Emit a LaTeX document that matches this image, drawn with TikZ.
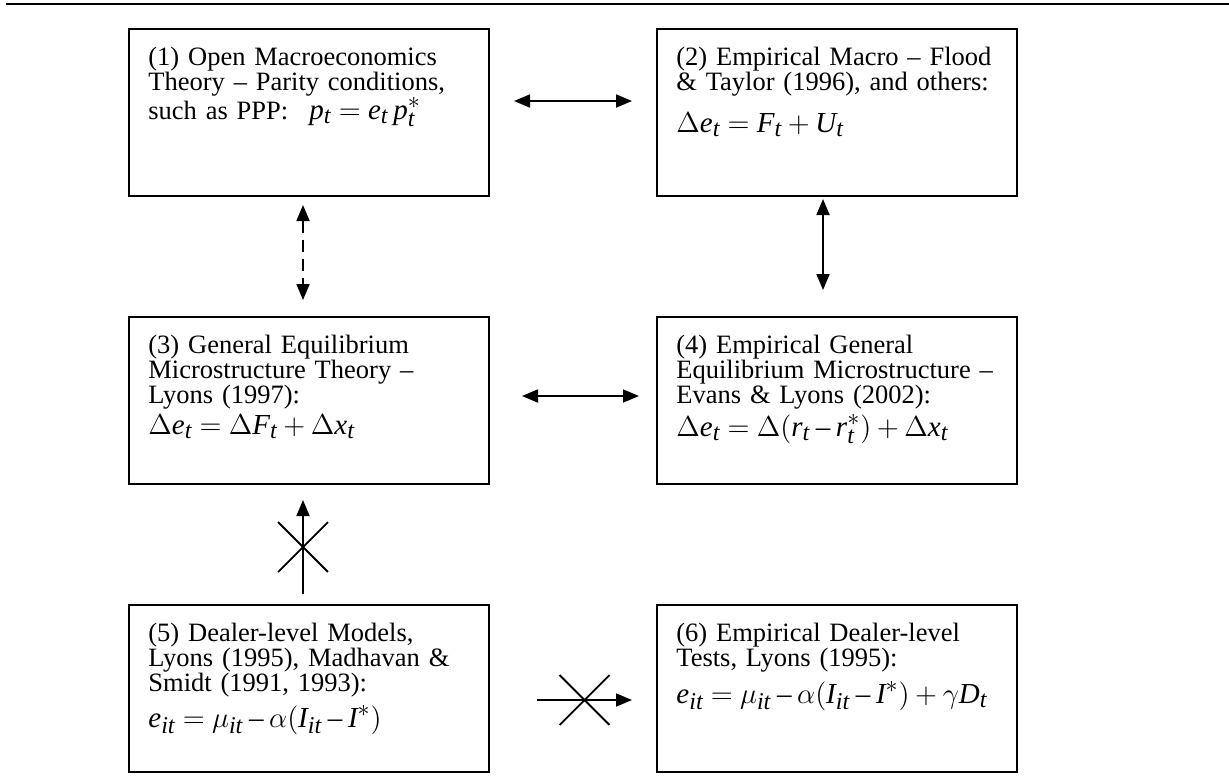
\documentclass[tikz,border=0pt]{standalone}
\usepackage{amsmath}
\usepackage{fontspec}
\setmainfont{Liberation Serif}
\usepackage[italic]{mathastext}
\usetikzlibrary{arrows.meta,shapes.misc}

\tikzset{
  panel/.style={draw, line width=1pt, anchor=north west, minimum width=180pt, minimum height=83.5pt, inner sep=0pt},
  paneltext/.style={anchor=base west, inner sep=0pt, text width=168pt, align=left, font=\fontsize{13.25}{12.5}\selectfont,
    execute at begin node={\setlength{\baselineskip}{12.5pt}\setlength{\lineskiplimit}{-100pt}}},
  link/.style={line width=0.9pt, <->},
  oneway/.style={line width=0.9pt, ->},
  blocked/.style={cross out, draw, line width=0.9pt, minimum size=24pt, inner sep=0pt},
  >={Triangle[length=8pt,width=6.5pt]}
}
\newcommand{\eqline}[1]{{\fontsize{14.5}{12.5}\selectfont\medmuskip=3.5mu\thickmuskip=4.5mu$#1$}}

\begin{document}
\begin{tikzpicture}[x=0.5pt,y=-0.5pt]
    \useasboundingbox (0,0) rectangle (1229,783);
    %% rule at the top
    \draw[line width=1.4pt] (6,4) -- (1229,4);
    %% the six panels
    \foreach \name/\px/\py in {b1/128/28, b2/656/28, b3/128/316, b4/656/316, b5/128/604, b6/656/604}
        \node[panel] (\name) at (\px,\py) {};
    %% texts
    \node[paneltext] (t1) at ([shift={(20,37)}]b1.north west)
        {(1) Open Macroeconomics\\ Theory -- Parity conditions,\\[2pt] such as PPP:\hspace{0.8em}\eqline{p_t = e_t\,p_t^{*}}};
    \node[paneltext] (t2) at ([shift={(20,37)}]b2.north west)
        {(2) Empirical Macro -- Flood\\ \& Taylor (1996), and others:\\[8.5pt] \eqline{\Delta e_t = F_t + U_t}};
    \node[paneltext] (t3) at ([shift={(20,37)}]b3.north west)
        {(3) General Equilibrium\\ Microstructure Theory --\\ Lyons (1997):\\[3pt] \eqline{\Delta e_t = \Delta F_t + \Delta x_t}};
    \node[paneltext] (t4) at ([shift={(20,37)}]b4.north west)
        {(4) Empirical General\\ Equilibrium Microstructure --\\ Evans \& Lyons (2002):\\[4pt] \eqline{\Delta e_t = \Delta(r_t - r_t^{*}) + \Delta x_t}};
    \node[paneltext] (t5) at ([shift={(20,37)}]b5.north west)
        {(5) Dealer-level Models,\\ Lyons (1995), Madhavan \&\\ Smidt (1991, 1993):\\[5.5pt] \eqline{e_{it} = \mu_{it} - \alpha(I_{it} - I^{*})}};
    \node[paneltext] (t6) at ([shift={(20,37)}]b6.north west)
        {(6) Empirical Dealer-level\\ Tests, Lyons (1995):\\[6pt] \eqline{e_{it} = \mu_{it} - \alpha(I_{it} - I^{*}) + \gamma D_t}};
    %% connectors
    \draw[link] ([shift={(24,73)}]b1.north east) -- ([shift={(-24,73)}]b2.north west);
    \draw[link] ([shift={(32,80)}]b3.north east) -- ([shift={(-17,80)}]b4.north west);
    \draw[oneway] ([shift={(47,96)}]b5.north east) -- ([shift={(-24,96)}]b6.north west)
        node[blocked, midway] (x56) {};
    \draw[link, dash pattern=on 6pt off 3.5pt] ([shift={(175,8)}]b1.south west) -- ([shift={(175,-16)}]b3.north west);
    \draw[link] ([shift={(167,2)}]b2.south west) -- ([shift={(167,-26)}]b4.north west);
    \draw[oneway] ([shift={(175,-10)}]b5.north west) -- ([shift={(175,15)}]b3.south west)
        node[blocked, midway] (x53) {};
\end{tikzpicture}
\end{document}
